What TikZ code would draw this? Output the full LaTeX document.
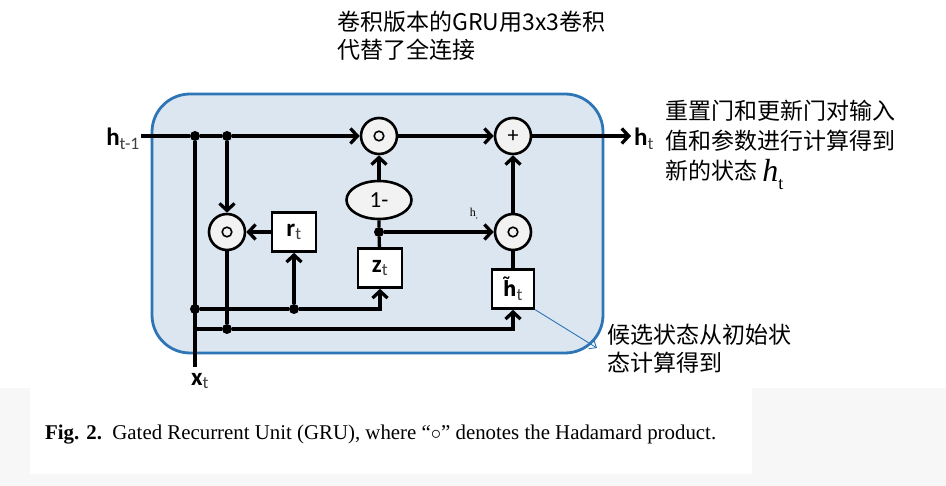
\documentclass[tikz,border=0pt]{standalone}
\usepackage{fontspec}
\setmainfont{Carlito}
\newfontfamily\cjk{Noto Sans CJK SC}
\newfontfamily\serifz{Liberation Serif}
\newfontfamily\djv{DejaVu Sans Condensed}
\usetikzlibrary{arrows.meta,shapes.geometric}
\definecolor{boxfill}{HTML}{DCE6F1}
\definecolor{boxline}{HTML}{2E75B6}
\definecolor{opfill}{HTML}{F2F2F2}
\definecolor{bggrey}{HTML}{F7F7F7}
\definecolor{subgrey}{HTML}{404040}
\begin{document}
\begin{tikzpicture}[x=1pt,y=-1pt,
  wire/.style={line width=3.3pt, black},
  arr/.style={wire, -{Straight Barb[length=7pt,width=15pt]}},
  op/.style={circle, draw, line width=2.6pt, fill=opfill, minimum size=36pt, inner sep=0pt},
  had/.style={op, path picture={\draw[line width=1.6pt] (path picture bounding box.center) circle (4.8pt);}},
  gate/.style={rectangle, draw, line width=2.6pt, fill=white, minimum width=44pt, minimum height=39pt, inner sep=0pt, font=\fontsize{25}{25}\selectfont},
  jdot/.style={circle, fill=black, minimum size=10pt, inner sep=0pt},
  lbl/.style={inner sep=0pt, font=\fontsize{25}{25}\selectfont},
  note/.style={inner sep=0pt, anchor=west, align=left}]
\useasboundingbox (0,0) rectangle (946,486);
% background of caption area
\fill[bggrey] (0,388) rectangle (946,486);
\fill[white] (30,388) rectangle (752,474);
% cell box
\draw[boxline, line width=2.8pt, fill=boxfill, rounded corners=38pt] (152,94) rectangle (603,353);

% operators
\node[had] (c1) at (379,136) {};
\node[op, font=\fontsize{22}{22}\selectfont] (plus) at (513,136) {+};
\node[had] (c3) at (513,232) {};
\node[had] (cr) at (227,232) {};
\node[ellipse, draw, line width=2.6pt, fill=opfill, minimum width=65pt, minimum height=38pt, inner sep=0pt, font=\fontsize{23}{23}\selectfont] (one) at (379,200) {1-};
% gates
\node[gate] (rbox) at (294,232) {\textbf{r}\textsubscript{\color{subgrey}t}};
\node[gate] (zbox) at (380,268) {\textbf{z}\textsubscript{\color{subgrey}t}};
\node[gate, minimum width=42pt] (hbox) at (513,289) {{\djv\bfseries\fontsize{21}{21}\selectfont h̃}\textsubscript{\color{subgrey}t}};
% junctions
\node[jdot] (d1) at (195,136) {};
\node[jdot] (d2) at (227,136) {};
\node[jdot] (d3) at (379,232) {};
\node[jdot] (d4) at (195,309) {};
\node[jdot] (d5) at (294,309) {};
\node[jdot] (d6) at (227,329) {};
\coordinate (hin) at (141,136);
\coordinate (hout) at (631,136);
\coordinate (xbot) at (195,367);
\coordinate (xl2) at (195,329);
\coordinate (noteend) at (597,348);

% labels
\node[lbl, anchor=east] (hprev) at (140,139) {\textbf{h}\textsubscript{\color{subgrey}t-1}};
\node[lbl, anchor=west] (hnext) at (634,139) {\textbf{h}\textsubscript{\color{subgrey}t}};
\node[lbl] (xin) at (200,381) {\textbf{x}\textsubscript{\color{subgrey}t}};
\node[inner sep=0pt, font=\serifz\fontsize{12}{12}\selectfont] (hsmall) at (474,214) {h\textsubscript{,}};

% wires
\draw[wire] (hin) -- (d1) -- (d2);
\draw[arr] (d2) -- (c1);
\draw[arr] (c1) -- (plus);
\draw[arr] (plus) -- (hout);
\draw[wire] (d1) -- (xbot);
\draw[arr] (d2) -- (cr);
\draw[arr] (rbox) -- (cr);
\draw[wire] (cr) -- (d6);
\draw[arr] (one) -- (c1);
\draw[wire] (zbox) -- (d3) -- (one);
\draw[arr] (d3) -- (c3);
\draw[wire] (hbox) -- (c3);
\draw[arr] (c3) -- (plus);
\draw[wire] (d4) -- (d5);
\draw[arr] (d5) -| (zbox.south);
\draw[arr] (d5) -- (rbox);
\draw[wire] (xl2) -- (d6);
\draw[arr] (d6) -| (hbox.south);
\draw[boxline, line width=0.9pt, -{Straight Barb[length=6pt,width=10pt]}] (hbox.south east) -- (noteend);

% notes
\node[note, font=\cjk\fontsize{23}{28}\selectfont] (ntop) at (337,36) {卷积版本的GRU用3x3卷积\\代替了全连接};
\node[note, font=\cjk\fontsize{23}{30}\selectfont] (nright) at (665,141) {重置门和更新门对输入\\值和参数进行计算得到\\新的状态 \raisebox{-2pt}[0pt][0pt]{{\serifz\itshape\fontsize{32}{32}\selectfont h}\raisebox{-8pt}{\serifz\fontsize{18}{18}\selectfont t}}};
\node[note, font=\cjk\fontsize{23}{28}\selectfont] (nbot) at (607,349) {候选状态从初始状\\态计算得到};

% caption
\node[anchor=base west, inner sep=0pt] (cap) at (45,440) {\resizebox{671pt}{\height}{\serifz\fontsize{21}{21}\selectfont\textbf{Fig. 2.}\ \ Gated Recurrent Unit (GRU), where “$\circ$” denotes the Hadamard product.}};
\end{tikzpicture}
\end{document}
